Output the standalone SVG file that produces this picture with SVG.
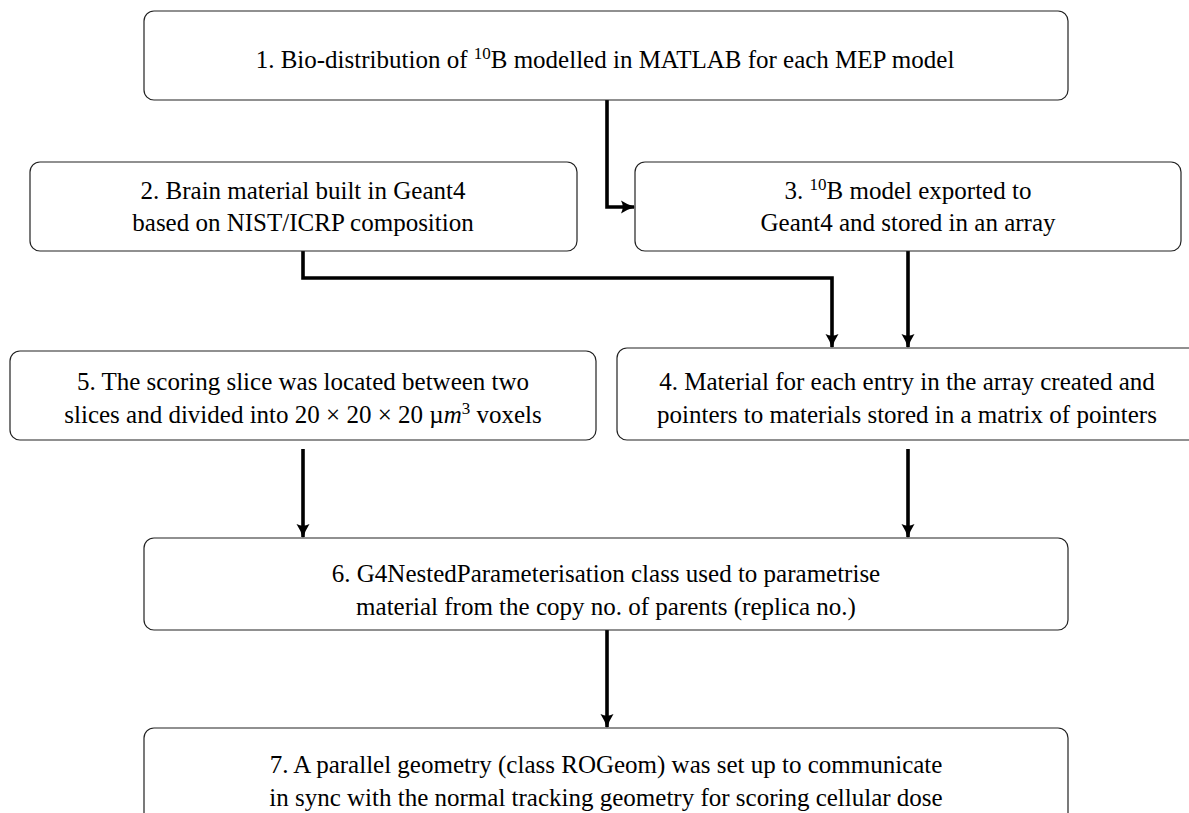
<svg xmlns="http://www.w3.org/2000/svg" width="1189" height="813" viewBox="0 0 1189 813">
<defs>
<style>
.box{fill:#fff;stroke:#222;stroke-width:1.2}
.t{font-family:"Liberation Serif","Times New Roman",serif;font-size:25px;fill:#000;text-anchor:middle}
.sup{font-size:17px}
.c{fill:none;stroke:#000;stroke-width:3.6}
</style>
<marker id="ah" viewBox="0 0 14 14" refX="13" refY="7" markerWidth="14" markerHeight="14" markerUnits="userSpaceOnUse" orient="auto">
<path d="M0,0.5 Q6,4.5 14,7 Q6,9.5 0,13.5 Q3.5,7 0,0.5 Z" fill="#000"/>
</marker>
</defs>
<rect width="1189" height="813" fill="#fff"/>
<g id="connectors">
<path class="c" d="M607,100 V207 H634" marker-end="url(#ah)"/>
<path class="c" d="M303,251 V278 H832 V347" marker-end="url(#ah)"/>
<path class="c" d="M908,251 V347" marker-end="url(#ah)"/>
<path class="c" d="M303,449 V537" marker-end="url(#ah)"/>
<path class="c" d="M908,449 V537" marker-end="url(#ah)"/>
<path class="c" d="M607,630 V727" marker-end="url(#ah)"/>
</g>
<g id="n1">
<rect class="box" x="144" y="11" width="924" height="89" rx="10"/>
<text class="t" x="605" y="68">1.  Bio-distribution of <tspan class="sup" dy="-9">10</tspan><tspan dy="9">B modelled in MATLAB for each MEP model</tspan></text>
</g>
<g id="n2">
<rect class="box" x="30" y="162" width="547" height="89" rx="10"/>
<text class="t" x="303" y="199">2. Brain material built in Geant4</text>
<text class="t" x="303" y="231">based on NIST/ICRP composition</text>
</g>
<g id="n3">
<rect class="box" x="635" y="162" width="546" height="89" rx="10"/>
<text class="t" x="908" y="199">3. <tspan class="sup" dy="-9">10</tspan><tspan dy="9">B model exported to</tspan></text>
<text class="t" x="908" y="231">Geant4 and stored in an array</text>
</g>
<g id="n4">
<rect class="box" x="617" y="348" width="590" height="92" rx="10"/>
<text class="t" x="907" y="390">4. Material for each entry in the array created and</text>
<text class="t" x="907" y="423">pointers to materials stored in a matrix of pointers</text>
</g>
<g id="n5">
<rect class="box" x="10" y="351" width="586" height="89" rx="10"/>
<text class="t" x="303" y="390">5. The scoring slice was located between two</text>
<text class="t" x="303" y="423">slices and divided into 20 × 20 × 20 µ<tspan font-style="italic">m</tspan><tspan class="sup" dy="-9">3</tspan><tspan dy="9"> voxels</tspan></text>
</g>
<g id="n6">
<rect class="box" x="144" y="538" width="924" height="92" rx="10"/>
<text class="t" x="606" y="582">6. G4NestedParameterisation class used to parametrise</text>
<text class="t" x="606" y="615">material from the copy no. of parents (replica no.)</text>
</g>
<g id="n7">
<rect class="box" x="144" y="728" width="924" height="100" rx="10"/>
<text class="t" x="606" y="773">7. A parallel geometry (class ROGeom) was set up to communicate</text>
<text class="t" x="606" y="806">in sync with the normal tracking geometry for scoring cellular dose</text>
</g>
</svg>
